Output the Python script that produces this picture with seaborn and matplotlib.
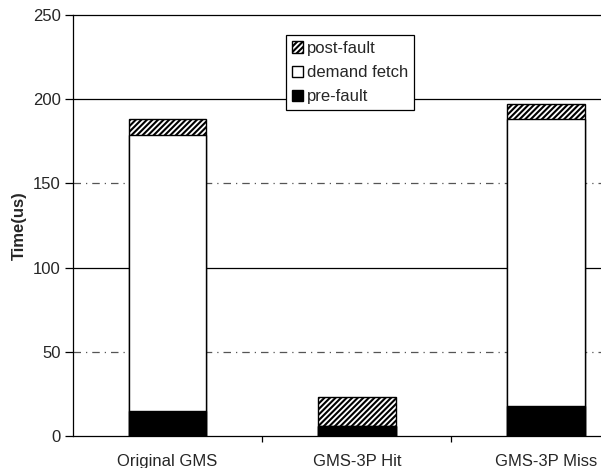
import pandas as pd
import matplotlib
matplotlib.use("Agg")
import matplotlib.pyplot as plt
import matplotlib.patches as mpatches
import seaborn as sns

configs = ["Original GMS", "GMS-3P Hit", "GMS-3P Miss"]
pre_fault = [15, 6, 18]
demand_fetch = [164, 0, 170]
post_fault = [9, 17, 9]

df = pd.DataFrame({"config": configs, "pre": pre_fault,
                   "demand": demand_fetch, "post": post_fault})
df["lower"] = df["pre"] + df["demand"]
df["total"] = df["lower"] + df["post"]

sns.set_style("white")
plt.rcParams["font.family"] = ["Liberation Sans", "DejaVu Sans"]
plt.rcParams["hatch.linewidth"] = 1.5

fig = plt.figure(figsize=(6.01, 4.68), dpi=100)
ax = fig.add_axes([73 / 601, 32 / 468, 528 / 601, 421 / 468])

# gridlines
for v, ls, c in [(50, (0, (6, 4, 1, 4)), "#555555"), (100, "-", "black"),
                 (150, (0, (6, 4, 1, 4)), "#555555"), (200, "-", "black")]:
    ax.axhline(v, color=c, lw=0.9, ls=ls, zorder=0)

w = 0.41
bar_kw = dict(width=w, edgecolor="black", linewidth=1.0)
sns.barplot(data=df, x="config", y="total", color="white", hatch="//////",
            ax=ax, saturation=1, **bar_kw)
sns.barplot(data=df, x="config", y="lower", color="white",
            ax=ax, saturation=1, **bar_kw)
sns.barplot(data=df, x="config", y="pre", color="black",
            ax=ax, saturation=1, **bar_kw)

ax.set_xlim(-0.5, 2.29)
ax.set_ylim(0, 250)
ax.set_yticks([0, 50, 100, 150, 200, 250])
ax.set_xlabel("")
ax.set_ylabel("Time(us)", fontsize=12, fontweight="bold", labelpad=4)
ax.tick_params(axis="y", labelsize=12, length=6, width=0.9, direction="out",
               left=True, pad=3, color="black")
ax.tick_params(axis="x", labelsize=12, length=0, pad=13)
ax.set_xticks([0.5, 1.5], minor=True)
ax.tick_params(axis="x", which="minor", length=4, width=0.9, bottom=True,
               direction="out", color="black")

for s in ["left", "bottom", "top"]:
    ax.spines[s].set_visible(True)
    ax.spines[s].set_color("black")
    ax.spines[s].set_linewidth(0.9)
ax.spines["right"].set_visible(False)

handles = [
    mpatches.Patch(facecolor="white", edgecolor="black", hatch="//////", label="post-fault"),
    mpatches.Patch(facecolor="white", edgecolor="black", label="demand fetch"),
    mpatches.Patch(facecolor="black", edgecolor="black", label="pre-fault"),
]
leg = ax.legend(handles=handles, loc="upper left", bbox_to_anchor=(0.403, 0.952),
                fontsize=12, frameon=True, fancybox=False, framealpha=1,
                handlelength=0.7, handleheight=0.7, handletextpad=0.2,
                labelspacing=0.55, borderpad=0.35, borderaxespad=0)
leg.get_frame().set_edgecolor("black")
leg.get_frame().set_linewidth(0.9)

fig.savefig("out.png", dpi=100)
